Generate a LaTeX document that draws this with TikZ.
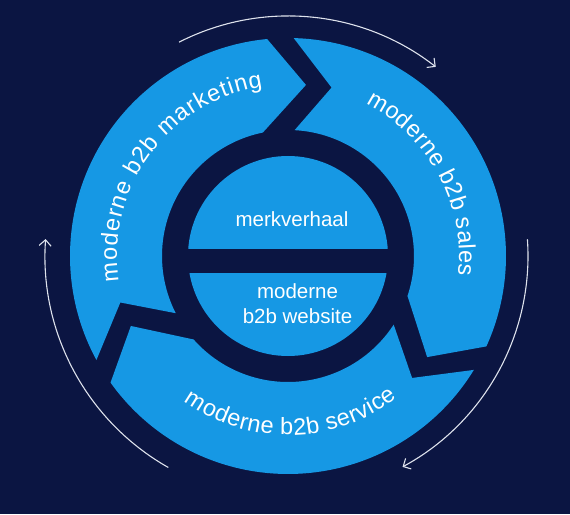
\documentclass[tikz,border=0pt]{standalone}
\usepackage{fontspec}
\setmainfont{Liberation Sans}
\usetikzlibrary{arrows.meta,decorations.text}
\definecolor{navy}{RGB}{11,21,66}
\definecolor{cycleblue}{RGB}{22,152,228}
\definecolor{arcwhite}{RGB}{222,226,236}
\newcommand{\arcfont}{\fontsize{23.5}{28}\selectfont}
\newcommand{\corefont}{\fontsize{20.5}{25}\selectfont}

\begin{document}
\begin{tikzpicture}[
    band/.style={fill=cycleblue},
    cycle arrow/.style={draw=arcwhite, line width=1.1pt,
      -{Straight Barb[length=6pt,width=12pt]}},
    core text/.style={text=white, font=\corefont, inner sep=0pt}
  ]
  \fill[navy] (-288pt,-258pt) rectangle (282pt,256pt);
  \useasboundingbox (-288pt,-258pt) rectangle (282pt,256pt);

  % three arrow bands, split at the gap angles
  \foreach \gp/\gn in {212/92, 92/-28, -28/-148}
    \fill[band] ({\gp-3.5}:218pt)
      arc[start angle={\gp-3.5}, end angle={\gn+3.5}, radius=218pt]
      -- ({\gn-8}:172pt) -- ({\gn+9.5}:126pt)
      arc[start angle={\gn+9.5}, end angle={\gp-5}, radius=126pt]
      -- ({\gp-16.5}:174pt) -- cycle;

  % core with its bar
  \fill[band] (0,0) circle[radius=100pt];
  \fill[navy] (-104pt,-17pt) rectangle (104pt,7pt);
  \node[core text, anchor=base] (story) at (4pt,30pt) {merkverhaal};
  \node[core text, anchor=base] (web1) at (9.5pt,-42pt) {moderne};
  \node[core text, anchor=base] (web2) at ([yshift=-25pt]web1.base) {b2b website};

  % band labels
  \path[decorate, decoration={text along path, text align=fit to path,
      text={|\arcfont\color{white}|moderne b2b marketing}}]
    (188.5:171pt) arc[start angle=188.5, end angle=98.5, radius=171pt];
  \path[decorate, decoration={text along path, text align=fit to path,
      text={|\arcfont\color{white}|moderne b2b sales}}]
    (63:171pt) arc[start angle=63, end angle=-6.5, radius=171pt];
  \path[decorate, decoration={text along path, text align=fit to path,
      text={|\arcfont\color{white}|moderne b2b service}}]
    (-125.5:179pt) arc[start angle=-125.5, end angle=-52.5, radius=179pt];

  % outer cycle arrows
  \draw[cycle arrow] (117:240pt) arc[start angle=117, end angle=52, radius=240pt];
  \draw[cycle arrow] (4:240pt) arc[start angle=4, end angle=-61.5, radius=240pt];
  \draw[cycle arrow] (240.5:243pt) arc[start angle=240.5, end angle=176, radius=243pt];
\end{tikzpicture}
\end{document}
